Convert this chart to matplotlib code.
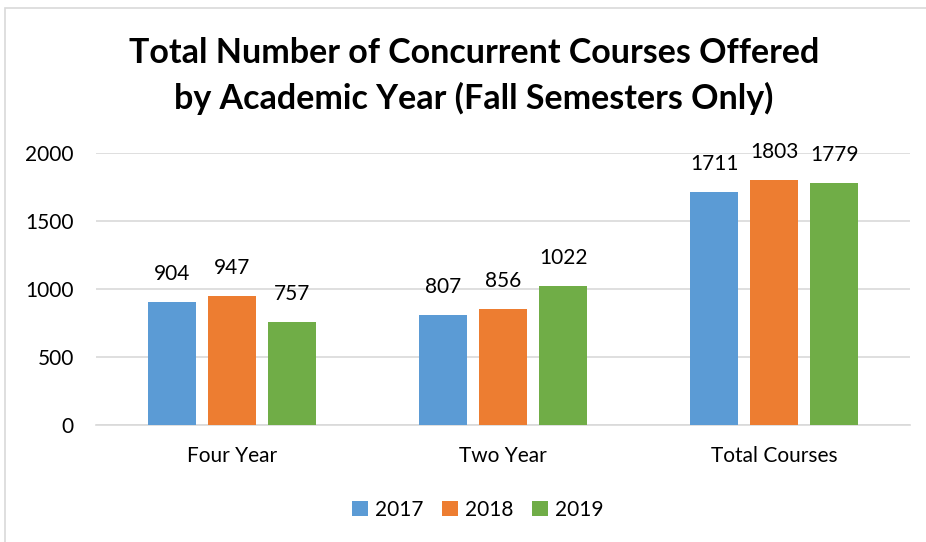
import matplotlib.pyplot as plt
import numpy as np
from matplotlib.patches import Rectangle

plt.rcParams['font.family'] = ['Lato', 'DejaVu Sans']

categories = ['Four Year', 'Two Year', 'Total Courses']
years = ['2017', '2018', '2019']
values_2017 = [904, 807, 1711]
values_2018 = [947, 856, 1803]
values_2019 = [757, 1022, 1779]
colors = ['#5b9bd5', '#ed7d31', '#70ad47']

fig = plt.figure(figsize=(9.26, 5.42), dpi=100)
ax = fig.add_axes([96 / 926, 1 - 425 / 542, (910 - 96) / 926, (425 - 153) / 542])

# chart border (light gray frame like Excel)
fig.patches.append(Rectangle((5 / 926, -0.02), 1.1, 1 - 8 / 542 + 0.02, transform=fig.transFigure,
                             fill=False, edgecolor='#d9d9d9', linewidth=1.2))

x = np.arange(len(categories))
width = 48 / 271
step = 60 / 271
series = [values_2017, values_2018, values_2019]
for i, (yr, vals) in enumerate(zip(years, series)):
    pos = x + (i - 1) * step
    bars = ax.bar(pos, vals, width, color=colors[i], label=yr, zorder=3)
    for b, v in zip(bars, vals):
        ax.text(b.get_x() + b.get_width() / 2, v + 205, str(v), ha='center', va='center',
                fontsize=15, color='#000000')

ax.set_xlim(-0.5, 2.5)
ax.set_ylim(0, 2000)
ax.set_yticks([0, 500, 1000, 1500, 2000])
ax.grid(axis='y', color='#d9d9d9', linewidth=1.2, zorder=0)
ax.set_xticks(x)
ax.set_xticklabels(categories)
ax.tick_params(axis='both', length=0, labelsize=15, colors='#000000')
ax.tick_params(axis='y', pad=16)
ax.tick_params(axis='x', pad=15)
for s in ['top', 'right', 'left']:
    ax.spines[s].set_visible(False)
ax.spines['bottom'].set_color('#d9d9d9')
ax.spines['bottom'].set_linewidth(1.2)

fig.text(474 / 926, 1 - 76 / 542, 'Total Number of Concurrent Courses Offered\nby Academic Year (Fall Semesters Only)',
         ha='center', va='center', fontsize=24.5, fontweight='bold', linespacing=1.45)

fig.legend(loc='center', bbox_to_anchor=(478 / 926, 1 - 510 / 542), ncol=3, frameon=False,
           fontsize=15, handlelength=0.75, handleheight=0.75, handletextpad=0.35, columnspacing=0.9)

fig.savefig('out.png', dpi=100)
